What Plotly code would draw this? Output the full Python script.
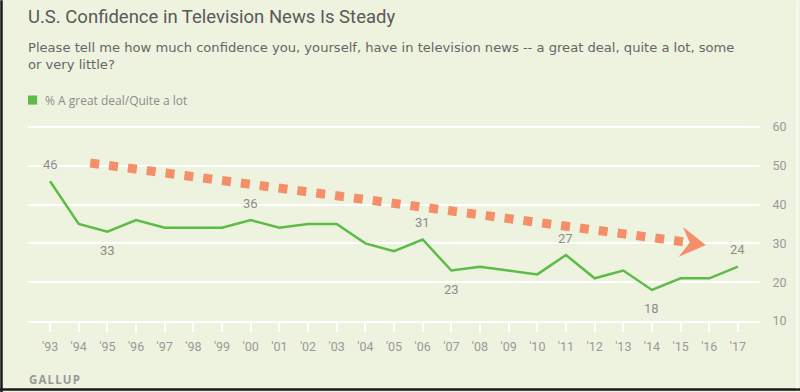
import plotly.graph_objects as go

# ---- data ----
years = list(range(1993, 2018))
tick_labels = ["'93", "'94", "'95", "'96", "'97", "'98", "'99", "'00", "'01", "'02", "'03", "'04",
               "'05", "'06", "'07", "'08", "'09", "'10", "'11", "'12", "'13", "'14", "'15", "'16", "'17"]
confidence = [46, 35, 33, 36, 34, 34, 34, 36, 34, 35, 35, 30, 28, 31, 23, 24, 23, 22, 27, 21, 23, 18, 21, 21, 24]

label_years = [1993, 1995, 2000, 2006, 2007, 2011, 2014, 2017]
label_values = [46, 33, 36, 31, 23, 27, 18, 24]
label_side = ["above", "below", "above", "above", "below", "above", "below", "above"]

# trend arrow (drawn in data space)
arrow_x = [1994.4, 2015.2]
arrow_y = [50.7, 30.3]
head_x = [2015.88, 2015.08, 2015.32, 2014.93]
head_y = [29.6, 34.2, 30.2, 26.5]

title = "U.S. Confidence in Television News Is Steady"
subtitle = ("Please tell me how much confidence you, yourself, have in television news -- a great deal, quite a lot, some"
            "<br>or very little?")
series_name = "% A great deal/Quite a lot"

BG = "#EEF3DF"
GREEN = "#5DBB47"
ORANGE = "#F58F6A"
GRAY = "#8C8C8C"

fig = go.Figure()
fig.add_trace(go.Scatter(x=years, y=confidence, mode="lines", name=series_name,
                         line=dict(color=GREEN, width=2.5), hoverinfo="x+y", showlegend=False))

# dotted trend line
fig.add_shape(type="line", xref="x", yref="y", x0=arrow_x[0], y0=arrow_y[0], x1=arrow_x[1], y1=arrow_y[1],
              line=dict(color=ORANGE, width=9, dash="9px,10px"), layer="above")
path = "M " + " L ".join(f"{x},{y}" for x, y in zip(head_x, head_y)) + " Z"
fig.add_shape(type="path", xref="x", yref="y", path=path, fillcolor=ORANGE, line=dict(width=0), layer="above")

annotations = []
for x, v, s in zip(label_years, label_values, label_side):
    annotations.append(dict(x=x, y=v, xref="x", yref="y", text=str(v), showarrow=False,
                            yshift=17 if s == "above" else -19,
                            font=dict(family="Roboto, Arial", size=13, color=GRAY)))

annotations += [
    dict(xref="paper", yref="paper", x=-0.003, y=1.535, xanchor="left", yanchor="middle", text=title,
         showarrow=False, font=dict(family="Roboto, Arial", size=18.5, color="#595959")),
    dict(xref="paper", yref="paper", x=-0.003, y=1.336, xanchor="left", yanchor="middle", text=subtitle,
         showarrow=False, align="left", font=dict(family="DejaVu Sans, Arial", size=13.1, color="#666666")),
    dict(xref="paper", yref="paper", x=0.020, y=1.116, xanchor="left", yanchor="middle", text=series_name,
         showarrow=False, font=dict(family="Open Sans, Arial", size=12, color=GRAY)),
    dict(xref="paper", yref="paper", x=-0.002, y=-0.293, xanchor="left", yanchor="middle",
         text="<b>G A L L U P</b>".replace(" ", "\u200a"),
         showarrow=False, font=dict(family="Open Sans, Arial", size=11.5, color="#999999")),
]

# legend square
fig.add_shape(type="rect", xref="paper", yref="paper", x0=0.0, x1=0.0125, y0=1.093, y1=1.139,
              fillcolor=GREEN, line=dict(width=0))
# frame (left and bottom edges)
fig.add_shape(type="line", xref="paper", yref="paper", x0=-0.0362, x1=-0.0362, y0=1.62, y1=-0.36,
              line=dict(color="#1a1a1a", width=2.5))
fig.add_shape(type="line", xref="paper", yref="paper", x0=-0.04, x1=1.06, y0=-0.3465, y1=-0.3465,
              line=dict(color="#1a1a1a", width=2.5))
fig.add_shape(type="line", xref="paper", yref="paper", x0=1.051, x1=1.051, y0=1.62, y1=-0.34,
              line=dict(color="#f7f9f0", width=2))

fig.update_layout(
    width=800, height=392,
    margin=dict(l=28, r=40, t=123, b=71),
    paper_bgcolor=BG, plot_bgcolor=BG,
    annotations=annotations,
    showlegend=False,
    xaxis=dict(range=[1992.23, 2017.77], tickvals=years, ticktext=tick_labels, showgrid=False,
               zeroline=False, showline=True, linecolor="white", linewidth=2,
               ticks="outside", ticklen=9, tickwidth=2, tickcolor="white", automargin=False,
               tickfont=dict(family="Roboto, Arial", size=12.5, color="#999999"), ticklabelstandoff=4),
    yaxis=dict(range=[10, 61], tickvals=[10, 20, 30, 40, 50, 60], side="right", showgrid=True,
               gridcolor="white", gridwidth=2, zeroline=False, showline=False,
               ticks="outside", ticklen=9, tickcolor=BG, automargin=False,
               tickfont=dict(family="Roboto, Arial", size=12.5, color="#999999")),
)

fig.write_html("out.html", config={"displayModeBar": False},
               post_script="document.body.style.margin='0';document.body.style.padding='0';")
